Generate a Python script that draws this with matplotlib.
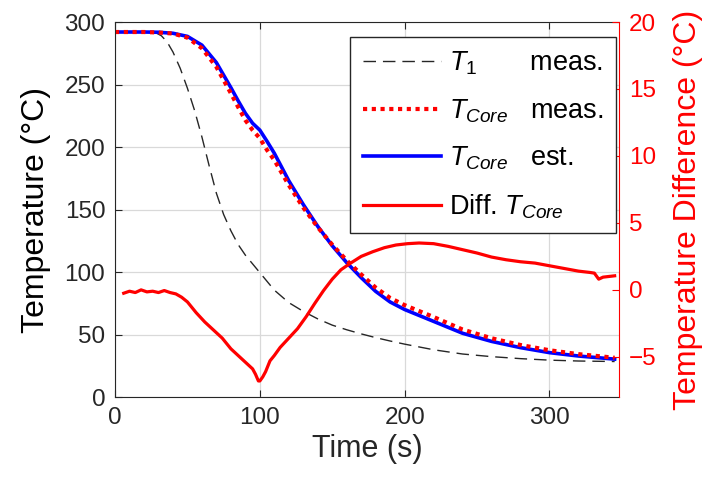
import numpy as np
import matplotlib.pyplot as plt

plt.rcParams['font.family'] = ['Liberation Sans', 'DejaVu Sans']
plt.rcParams['mathtext.fontset'] = 'custom'
plt.rcParams['mathtext.it'] = 'Liberation Sans:italic'
plt.rcParams['mathtext.rm'] = 'Liberation Sans'

# T1 measured (dashed)
t_t1 = [0, 10, 20, 28, 32, 36, 40, 45, 50, 55, 60, 65, 70, 75, 80, 85, 90, 100,
        110, 120, 130, 140, 150, 160, 170, 180, 190, 200, 220, 240, 260, 280,
        300, 320, 345]
temp_t1 = [292, 292, 292, 291.5, 289, 284, 276, 263, 247, 229, 208, 185, 163,
           146, 133, 122, 113.5, 99.5, 85.5, 75.5, 68.5, 62.5, 57.5, 53.8, 50.5,
           47.5, 44.8, 42.3, 37.8, 34.4, 32.3, 30.7, 29.5, 28.8, 28.4]

# T_Core estimated (blue) and measured (red dotted)
t_core = [0, 10, 20, 30, 40, 50, 60, 70, 80, 85, 90, 95, 100, 105, 110, 120,
          130, 140, 150, 160, 170, 180, 190, 200, 220, 240, 260, 280, 300, 320,
          345]
core_est = [292, 292, 292, 291.8, 291, 288.5, 281.5, 267.5, 247.5, 237, 227,
            219, 213.5, 204.5, 195, 173, 154, 136.5, 121, 107.5, 95.5, 84.5, 76,
            70, 60.5, 51, 44.5, 39.5, 35.5, 32.8, 30.3]
core_meas = [292, 292, 292, 291.6, 290.8, 287.5, 279, 264, 243, 232, 221.5,
             213.5, 207, 197.5, 189.5, 169.5, 151.5, 135.8, 121.8, 109.3, 98,
             87.5, 79.2, 73.5, 64, 54, 47, 41.6, 37.4, 34.3, 31.4]

# Difference T_Core (right axis)
t_diff = [6, 10, 14, 18, 22, 26, 30, 34, 38, 42, 46, 50, 56, 62, 68, 74, 80,
          86, 91, 95, 97, 99, 100, 102, 104, 107, 110, 114, 120, 126, 132, 138,
          144, 150, 156, 162, 170, 178, 186, 194, 202, 210, 220, 230, 240, 250,
          260, 270, 280, 290, 300, 310, 320, 328, 331, 334, 337, 341, 345]
diff = [-0.25, -0.1, -0.2, 0.0, -0.15, -0.1, -0.2, -0.05, -0.2, -0.3, -0.55,
        -0.9, -1.7, -2.4, -3.0, -3.6, -4.4, -5.0, -5.5, -5.9, -6.3, -6.8, -6.8,
        -6.5, -6.1, -5.3, -4.9, -4.3, -3.6, -2.9, -2.0, -1.0, -0.05, 0.8, 1.5,
        1.95, 2.5, 2.85, 3.15, 3.35, 3.45, 3.5, 3.45, 3.25, 3.0, 2.75, 2.45,
        2.25, 2.1, 2.0, 1.8, 1.6, 1.4, 1.3, 1.25, 0.8, 0.95, 1.0, 1.05]

dark = (0.15, 0.15, 0.15)

fig = plt.figure(figsize=(7.07, 4.86), dpi=100)
ax = fig.add_axes([0.1627, 0.1831, 0.7128, 0.7716])
ax2 = ax.twinx()

l1, = ax.plot(t_t1, temp_t1, color=dark, lw=1.0, dashes=(9, 5))
l3, = ax.plot(t_core, core_est, color='blue', lw=2.6)
l2, = ax.plot(t_core, core_meas, color='red', lw=3.0, linestyle=(0, (1, 1.1)))
l4, = ax2.plot(t_diff, diff, color='red', lw=2.3)

ax.set_xlim(0, 348)
ax.set_ylim(0, 300)
ax.set_xticks([0, 100, 200, 300])
ax.set_yticks([0, 50, 100, 150, 200, 250, 300])
ax.grid(True, color=(0.85, 0.85, 0.85), lw=0.9)
ax.set_axisbelow(True)
ax.tick_params(direction='in', top=True, right=False, length=5,
               labelsize=17.5, colors=dark, pad=7)
for s in ['left', 'bottom', 'top']:
    ax.spines[s].set_color(dark)
ax.spines['right'].set_visible(False)
ax.set_xlabel('Time (s)', fontsize=22, color=dark, labelpad=4)
ax.set_ylabel('Temperature (°C)', fontsize=23, color='black', labelpad=10)

ax2.set_ylim(-8, 20)
ax2.set_yticks([-5, 0, 5, 10, 15, 20])
ax2.tick_params(direction='in', length=5, labelsize=17.5, colors='red', pad=7)
ax2.spines['right'].set_color('red')
for s in ['left', 'bottom', 'top']:
    ax2.spines[s].set_visible(False)
ax2.set_ylabel('Temperature Difference (°C)', fontsize=23, color='red',
               labelpad=12)

leg = ax2.legend([l1, l2, l3, l4],
                 [r'$T_1$       meas.', r'$T_{Core}$   meas.',
                  r'$T_{Core}$   est.', r'Diff. $T_{Core}$'],
                 loc='upper right', bbox_to_anchor=(0.994, 0.96),
                 borderaxespad=0, fontsize=19.5, handlelength=2.9,
                 handletextpad=0.3, labelspacing=0.75, fancybox=False,
                 framealpha=1, edgecolor=dark, borderpad=0.45)
leg.get_frame().set_linewidth(1.0)

fig.savefig('out.png', dpi=100)
